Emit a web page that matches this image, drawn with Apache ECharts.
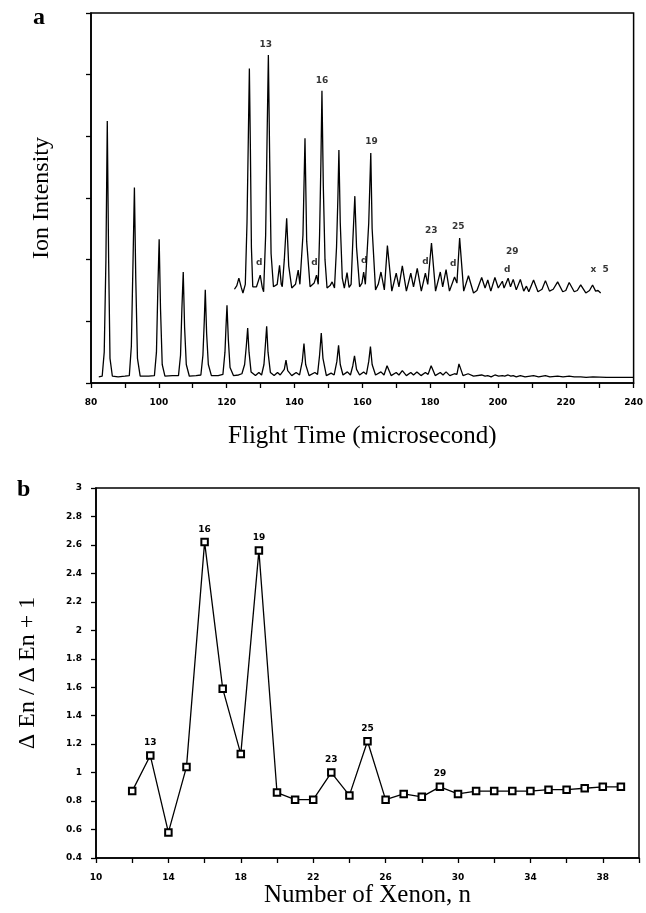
<!DOCTYPE html>
<html><head><meta charset="utf-8">
<script src="https://cdn.jsdelivr.net/npm/echarts@6/dist/echarts.min.js"></script>
<style>html,body{margin:0;padding:0;background:#fff}#c{width:646px;height:913px}</style>
</head><body><div id="c"></div>
<script>
// ---- Panel a: time-of-flight spectrum (flight time µs, intensity in tick units) ----
const lowerTrace = [
[82.3,0.10],[83.3,0.11],[83.9,0.5],[84.4,2.0],[84.8,4.25],[85.2,2.0],[85.6,0.4],[86.3,0.11],
[88,0.10],[90,0.11],[91.3,0.12],[91.9,0.6],[92.4,2.0],[92.8,3.17],[93.2,1.7],[93.7,0.4],[94.5,0.11],
[97,0.11],[98.7,0.12],[99.3,0.5],[99.7,1.5],[100.1,2.33],[100.5,1.2],[101.0,0.3],[101.8,0.11],
[104,0.12],[105.8,0.12],[106.4,0.45],[106.8,1.2],[107.2,1.80],[107.6,0.9],[108.1,0.3],[109,0.11],
[111,0.12],[112.4,0.13],[113,0.45],[113.4,1.0],[113.7,1.51],[114.1,0.8],[114.6,0.3],[115.5,0.12],
[117.5,0.12],[118.9,0.14],[119.5,0.5],[119.8,0.9],[120.1,1.26],[120.5,0.7],[121,0.25],[122,0.12],
[123.5,0.13],[124.5,0.15],[125.3,0.3],[125.8,0.6],[126.2,0.89],[126.6,0.5],[127.2,0.18],[128.5,0.12],
[129.5,0.17],[130.3,0.13],[131,0.3],[131.4,0.6],[131.8,0.92],[132.2,0.5],[132.9,0.17],[134,0.12],
[135,0.17],[135.8,0.13],[137.0,0.22],[137.5,0.37],[138,0.2],[139.2,0.12],[140.5,0.17],[141.5,0.13],
[142.3,0.35],[142.8,0.64],[143.3,0.3],[144.3,0.12],[146,0.17],[146.8,0.14],[147.4,0.45],[147.9,0.81],
[148.4,0.4],[149.4,0.12],[150.8,0.16],[151.7,0.13],[152.5,0.35],[153.0,0.61],[153.5,0.3],[154.3,0.13],
[155.6,0.18],[156.5,0.13],[157.2,0.28],[157.7,0.44],[158.3,0.22],[159.2,0.13],[160.4,0.18],[161.2,0.14],
[161.9,0.35],[162.4,0.59],[162.9,0.3],[163.9,0.13],[165.5,0.18],[166.4,0.13],[167.3,0.28],[168.5,0.12],
[170,0.17],[170.8,0.13],[171.8,0.2],[173,0.12],[174.3,0.17],[175.1,0.13],[176.1,0.18],[177.3,0.12],
[178.6,0.17],[179.4,0.14],[180.3,0.28],[181.5,0.12],[183,0.17],[183.8,0.13],[184.7,0.18],[185.8,0.12],
[187.2,0.15],[187.9,0.14],[188.5,0.31],[189.7,0.12],[191.2,0.15],[192.8,0.11],[195.2,0.13],[196.2,0.11],
[197,0.12],[198,0.10],[199.1,0.13],[200.2,0.11],[201.3,0.12],[202,0.11],[203,0.13],[203.8,0.11],
[204.5,0.12],[205.4,0.10],[206.6,0.12],[208,0.10],[210.5,0.12],[212,0.10],[214,0.12],[215.3,0.10],
[217.6,0.11],[219.2,0.10],[221,0.11],[222.5,0.10],[224.4,0.10],[226,0.09],[228,0.10],[232,0.09],
[236,0.09],[240,0.09]
];
const upperTrace = [
[122.3,1.52],[123.0,1.58],[123.6,1.70],[124.3,1.55],[124.8,1.46],[125.5,1.6],[126.0,2.6],[126.4,4.0],
[126.7,5.10],[127.0,3.8],[127.3,2.2],[127.7,1.56],[128.8,1.56],[129.9,1.75],[130.5,1.55],[130.9,1.48],
[131.5,2.4],[131.9,3.9],[132.3,5.32],[132.7,3.6],[133.1,2.1],[133.8,1.56],[134.9,1.6],[135.6,1.91],
[136.1,1.6],[136.4,1.56],[137.0,2.0],[137.7,2.67],[138.3,1.9],[139.2,1.54],[140.3,1.6],[141.1,1.83],
[141.6,1.6],[141.9,1.59],[142.5,2.4],[143.1,3.97],[143.6,2.3],[144.6,1.56],[145.8,1.62],[146.5,1.75],
[147.0,1.6],[147.4,2.4],[147.8,3.6],[148.1,4.74],[148.5,3.2],[149.0,2.0],[149.6,1.54],[150.5,1.58],
[151.1,1.64],[151.8,1.54],[152.4,2.2],[152.8,3.0],[153.1,3.78],[153.5,2.6],[154.1,1.7],[154.7,1.54],
[155.5,1.79],[156.1,1.55],[156.7,1.6],[157.2,2.3],[157.8,3.03],[158.3,2.2],[159.2,1.56],[159.9,1.62],
[160.4,1.80],[160.9,1.6],[161.3,1.6],[161.9,2.6],[162.5,3.73],[162.9,2.5],[163.9,1.51],[164.7,1.6],
[165.5,1.80],[166.5,1.51],[167.4,2.23],[168.7,1.49],[170.0,1.78],[170.8,1.56],[171.8,1.90],[173.0,1.49],
[174.3,1.78],[175.1,1.56],[176.2,1.86],[177.4,1.49],[178.6,1.78],[179.3,1.6],[180.4,2.27],[181.6,1.49],
[183.0,1.80],[183.7,1.56],[184.7,1.84],[185.7,1.49],[187.2,1.72],[187.9,1.62],[188.7,2.35],[189.9,1.49],
[191.3,1.74],[192.8,1.46],[193.8,1.5],[195.2,1.71],[196.2,1.54],[197.0,1.67],[197.9,1.49],[199.1,1.71],
[200.1,1.54],[201.3,1.65],[201.8,1.54],[203.0,1.70],[203.7,1.56],[204.5,1.68],[205.4,1.51],[206.6,1.68],
[207.6,1.49],[208.4,1.57],[209.1,1.48],[210.5,1.67],[211.8,1.48],[213.0,1.52],[214.0,1.66],[215.2,1.49],
[216.3,1.52],[217.6,1.64],[219.1,1.48],[220.0,1.5],[221.0,1.63],[222.5,1.48],[223.4,1.5],[224.4,1.59],
[225.9,1.46],[227.0,1.5],[227.9,1.59],[228.8,1.49],[229.5,1.5],[230.3,1.46]
];
// annotations on the spectrum: [time, intensity, text]
const spectrumNotes = [
[131.5,5.48,'13'],[148.1,4.91,'16'],[162.7,3.91,'19'],[180.3,2.47,'23'],[188.3,2.53,'25'],[204.2,2.13,'29'],
[129.6,1.95,'d'],[145.9,1.95,'d'],[160.6,1.98,'d'],[178.6,1.97,'d'],[186.8,1.93,'d'],[202.7,1.83,'d'],
[230.0,1.83,'x  5']
];
const timeTickLabels = [80,100,120,140,160,180,200,220,240];

// ---- Panel b: ratio vs cluster size ----
const xenonN = [12,13,14,15,16,17,18,19,20,21,22,23,24,25,26,27,28,29,30,31,32,33,34,35,36,37,38,39];
const ratio  = [0.87,1.12,0.58,1.04,2.62,1.59,1.13,2.56,0.86,0.81,0.81,1.00,0.84,1.22,0.81,0.85,0.83,0.90,0.85,0.87,0.87,0.87,0.87,0.88,0.88,0.89,0.90,0.90];
const labeledN = [13,16,19,23,25,29];
const nTickLabels = [10,14,18,22,26,30,34,38];

const tickFont = {fontFamily:'DejaVu Sans', fontWeight:'bold', fontSize:9, color:'#000'};
const serif = 'Liberation Serif';
const axLine = {show:true, lineStyle:{color:'#000', width:1.6}};
const axTick = {show:true, inside:false, length:5, lineStyle:{color:'#000', width:1.3}};

const chart = echarts.init(document.getElementById('c'), null, {renderer:'canvas'});
chart.setOption({
  animation:false,
  backgroundColor:'#fff',
  graphic:[
    {type:'text', left:33, top:6, style:{text:'a', font:'bold 24px "Liberation Serif"', fill:'#000'}},
    {type:'text', left:17, top:478, style:{text:'b', font:'bold 24px "Liberation Serif"', fill:'#000'}}
  ],
  grid:[
    {left:91, top:13, width:547, height:370, show:true, borderColor:'#000', borderWidth:1.5, backgroundColor:'transparent'},
    {left:96, top:488, width:543, height:370, show:true, borderColor:'#000', borderWidth:1.5, backgroundColor:'transparent'}
  ],
  xAxis:[
    {gridIndex:0, type:'value', min:80, max:240, interval:10,
     axisLine:axLine, axisTick:axTick, splitLine:{show:false},
     axisLabel:Object.assign({margin:15, formatter:v=>timeTickLabels.includes(v)?String(v):''}, tickFont),
     name:'Flight Time (microsecond)', nameLocation:'middle', nameGap:41,
     nameTextStyle:{fontFamily:serif, fontSize:25, color:'#000'}},
    {gridIndex:1, type:'value', min:10, max:40, interval:2,
     axisLine:axLine, axisTick:axTick, splitLine:{show:false},
     axisLabel:Object.assign({margin:15, formatter:v=>nTickLabels.includes(v)?String(v):''}, tickFont),
     name:'Number of Xenon, n', nameLocation:'middle', nameGap:22,
     nameTextStyle:{fontFamily:serif, fontSize:25, color:'#000'}}
  ],
  yAxis:[
    {gridIndex:0, type:'value', min:0, max:6, interval:1,
     axisLine:axLine, axisTick:axTick, splitLine:{show:false}, axisLabel:{show:false},
     name:'Ion Intensity', nameLocation:'middle', nameGap:37,
     nameTextStyle:{fontFamily:serif, fontSize:24, color:'#000'}},
    {gridIndex:1, type:'value', min:0.4, max:3, interval:0.2,
     axisLine:axLine, axisTick:axTick, splitLine:{show:false},
     axisLabel:Object.assign({margin:14}, tickFont),
     name:'\u0394 En / \u0394 En + 1', nameLocation:'middle', nameGap:56,
     nameTextStyle:{fontFamily:serif, fontSize:24, color:'#000'}}
  ],
  series:[
    {type:'line', xAxisIndex:0, yAxisIndex:0, data:lowerTrace, showSymbol:false, symbol:'none',
     lineStyle:{color:'#000', width:1.3}},
    {type:'line', xAxisIndex:0, yAxisIndex:0, data:upperTrace, showSymbol:false, symbol:'none',
     lineStyle:{color:'#000', width:1.3}},
    {type:'scatter', xAxisIndex:0, yAxisIndex:0, symbolSize:0, silent:true,
     data:spectrumNotes.map(d=>({value:[d[0],d[1]], name:d[2]})),
     label:Object.assign({show:true, position:'inside', formatter:p=>p.name}, tickFont)},
    {type:'line', xAxisIndex:1, yAxisIndex:1,
     data:xenonN.map((n,i)=>({value:[n,ratio[i]],
       label:{show:labeledN.includes(n), position:'top', distance:4, formatter:String(n)}})),
     symbol:'emptyRect', symbolSize:6.5, showAllSymbol:true,
     itemStyle:{color:'#000', borderColor:'#000', borderWidth:1.5},
     lineStyle:{color:'#000', width:1.3},
     label:Object.assign({}, tickFont)}
  ]
});
</script></body></html>
